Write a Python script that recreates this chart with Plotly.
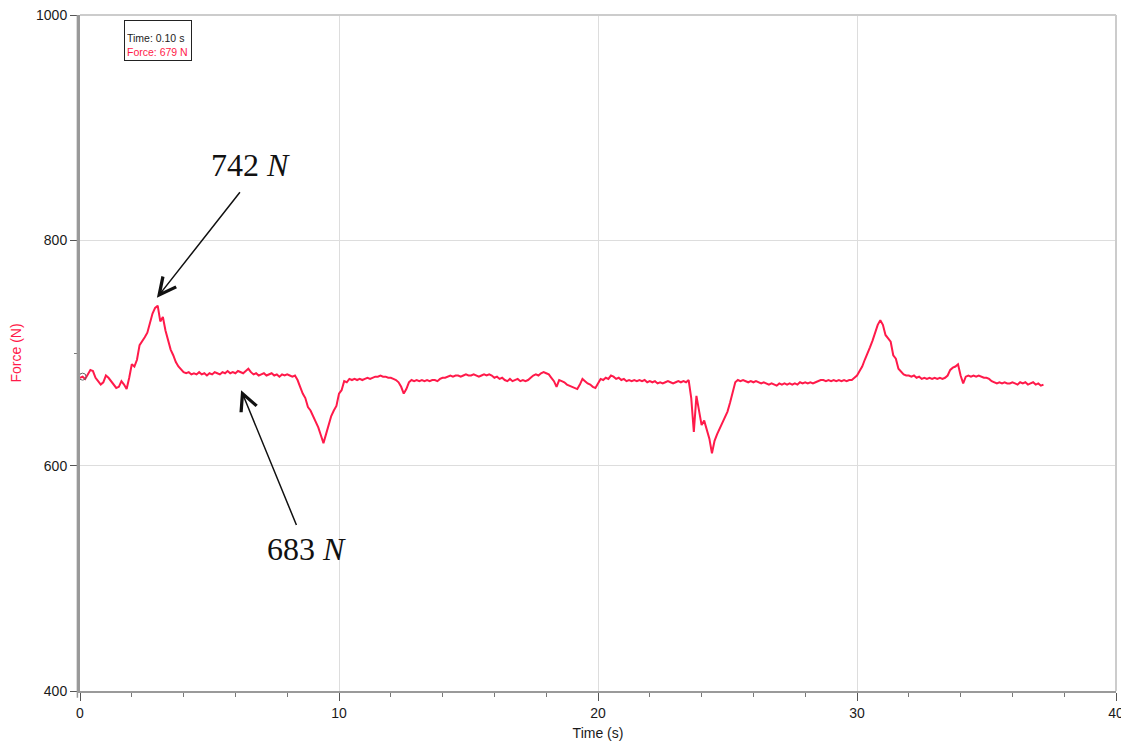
import plotly.graph_objects as go

# Sampling: 0.1 s from 0.0 to 37.2 s
time_s = [round(i * 0.1, 1) for i in range(373)]

# Force readings (N), one row per second
force_n = [
    678, 679, 677, 681, 685, 684, 678, 675, 672, 674,   # 0
    680, 678, 675, 672, 669, 670, 675, 672, 668, 678,   # 1
    690, 688, 694, 707, 710, 714, 718, 726, 735, 740,   # 2
    742, 728, 732, 720, 711, 703, 698, 692, 688, 685,   # 3
    683, 682, 683, 681, 682, 681, 683, 681, 682, 680,   # 4
    682, 681, 683, 682, 681, 683, 682, 684, 682, 683,   # 5
    682, 684, 683, 682, 684, 686, 683, 681, 682, 680,   # 6
    681, 682, 680, 681, 682, 680, 681, 679, 681, 680,   # 7
    681, 680, 679, 680, 676, 670, 664, 660, 652, 649,   # 8
    644, 639, 634, 627, 620, 628, 636, 644, 649, 653,   # 9
    664, 667, 675, 674, 677, 676, 677, 676, 677, 676,   # 10
    677, 678, 677, 678, 679, 679, 680, 679, 679, 678,   # 11
    678, 677, 676, 674, 670, 664, 668, 674, 676, 675,   # 12
    676, 675, 676, 675, 676, 675, 676, 676, 675, 677,   # 13
    678, 678, 679, 680, 679, 680, 680, 679, 680, 681,   # 14
    680, 680, 681, 680, 679, 680, 681, 680, 681, 680,   # 15
    678, 679, 677, 678, 676, 675, 677, 675, 676, 677,   # 16
    675, 676, 675, 676, 678, 680, 681, 680, 682, 683,   # 17
    682, 681, 678, 675, 670, 676, 675, 674, 672, 671,   # 18
    670, 669, 668, 672, 677, 675, 673, 672, 670, 669,   # 19
    673, 677, 676, 678, 677, 680, 679, 677, 678, 676,   # 20
    677, 675, 676, 675, 676, 675, 676, 675, 676, 674,   # 21
    675, 674, 675, 673, 674, 673, 674, 675, 674, 673,   # 22
    674, 675, 674, 675, 674, 676, 660, 630, 662, 648,   # 23
    636, 640, 632, 624, 611, 622, 628, 633, 637, 642,   # 24
    648, 656, 665, 674, 676, 675, 676, 675, 674, 675,   # 25
    674, 675, 674, 673, 674, 673, 672, 673, 672, 671,   # 26
    673, 672, 673, 672, 673, 672, 673, 672, 674, 673,   # 27
    674, 673, 674, 673, 674, 675, 676, 676, 675, 676,   # 28
    675, 676, 675, 676, 675, 676, 675, 676, 676, 678,   # 29
    680, 684, 688, 694, 699, 705, 711, 718, 725, 729,   # 30
    725, 716, 713, 710, 698, 695, 686, 683, 681, 680,   # 31
    680, 679, 680, 678, 679, 677, 678, 677, 678, 677,   # 32
    678, 677, 678, 677, 678, 680, 685, 687, 688, 690,   # 33
    680, 673, 679, 680, 679, 680, 679, 680, 679, 678,   # 34
    678, 677, 675, 674, 673, 674, 673, 674, 673, 673,   # 35
    674, 673, 672, 674, 673, 674, 672, 673, 674, 672,   # 36
    673, 671, 672,                                      # 37
]

cursor_index = 1
x_ticks = [0, 10, 20, 30, 40]
y_ticks = [400, 600, 800, 1000]

RED = "#FF1A4A"
SANS = "Liberation Sans, Arial, sans-serif"
TICKFONT = dict(family=SANS, size=14, color="#1A1A1A")

fig = go.Figure()
fig.add_trace(go.Scatter(
    x=time_s, y=force_n, mode="lines",
    line=dict(color=RED, width=2), hoverinfo="skip", showlegend=False,
))
fig.add_trace(go.Scatter(
    x=[time_s[cursor_index]], y=[force_n[cursor_index]], mode="markers",
    marker=dict(symbol="circle-open", size=7, color="#666666", line=dict(width=1)),
    showlegend=False, hoverinfo="skip",
))

# page body has an 8px margin; size the figure so the plot area lands where the reference has it
fig.update_layout(
    width=1121, height=737,
    margin=dict(l=72, r=13, t=7, b=54, autoexpand=False),
    paper_bgcolor="white", plot_bgcolor="white",
    showlegend=False,
)
fig.update_xaxes(
    range=[0, 40], tickvals=x_ticks, ticktext=[str(v) for v in x_ticks],
    showgrid=True, gridcolor="#DDDDDD", gridwidth=1,
    showline=True, linecolor="#9A9A9A", linewidth=2, mirror=False,
    ticks="outside", ticklen=8, tickcolor="#555555", tickwidth=1,
    minor=dict(dtick=2, ticks="outside", ticklen=4, tickcolor="#777777", showgrid=False),
    tickfont=TICKFONT, zeroline=False, automargin=False, ticklabeloverflow="allow",
    title=dict(text="Time (s)", font=dict(family=SANS, size=14, color="#1A1A1A"), standoff=8),
)
fig.update_yaxes(
    range=[400, 1000], tickvals=y_ticks, ticktext=[str(v) for v in y_ticks],
    showgrid=True, gridcolor="#DDDDDD", gridwidth=1,
    showline=True, linecolor="#9A9A9A", linewidth=2, mirror=False,
    ticks="outside", ticklen=8, tickcolor="#555555", tickwidth=1,
    minor=dict(tickvals=[700], ticks="outside", ticklen=4, tickcolor="#777777", showgrid=False),
    tickfont=TICKFONT, zeroline=False, automargin=False, ticklabeloverflow="allow",
    title=dict(text="Force (N)", font=dict(family=SANS, size=14, color=RED), standoff=13),
)

# frame: light top/right, double left line
fig.add_shape(type="line", xref="paper", yref="paper", x0=0, x1=1, y0=1, y1=1,
              line=dict(color="#CCCCCC", width=2))
fig.add_shape(type="line", xref="paper", yref="paper", x0=1, x1=1, y0=0, y1=1,
              line=dict(color="#CCCCCC", width=2))
fig.add_shape(type="line", xref="paper", yref="paper", x0=-0.0025, x1=-0.0025, y0=-0.01, y1=1,
              line=dict(color="#9A9A9A", width=1.5))

# annotations
SERIF = "Liberation Serif, DejaVu Serif, serif"
fig.add_annotation(x=6.6, y=867, xref="x", yref="y", text="742 <i>N</i>", showarrow=False,
                   font=dict(family=SERIF, size=32, color="#111111"))
fig.add_annotation(x=2.97, y=749, ax=6.22, ay=844, xref="x", yref="y", axref="x", ayref="y",
                   text="", showarrow=True, arrowhead=5, arrowsize=2.2, arrowwidth=1.5,
                   arrowcolor="#111111")
fig.add_annotation(x=8.73, y=526, xref="x", yref="y", text="683 <i>N</i>", showarrow=False,
                   font=dict(family=SERIF, size=32, color="#111111"))
fig.add_annotation(x=6.22, y=667, ax=8.38, ay=546, xref="x", yref="y", axref="x", ayref="y",
                   text="", showarrow=True, arrowhead=5, arrowsize=2.2, arrowwidth=1.5,
                   arrowcolor="#111111")

# cursor readout box
fig.add_annotation(
    x=0.0425, y=0.993, xref="paper", yref="paper", xanchor="left", yanchor="top",
    text=f"Time: {time_s[cursor_index]:.2f} s<br><span style='color:{RED}'>Force: {force_n[cursor_index]} N</span>",
    showarrow=False, align="left", valign="bottom", width=62, height=35,
    font=dict(family=SANS, size=10.5, color="#222222"),
    bordercolor="#222222", borderwidth=1, borderpad=2, bgcolor="white",
)
fig.add_shape(type="rect", xref="paper", yref="paper", x0=0.0445, x1=0.0505, y0=0.978, y1=0.988,
              line=dict(color="#444444", width=1), fillcolor="#888888")

fig.write_html("out.html")
